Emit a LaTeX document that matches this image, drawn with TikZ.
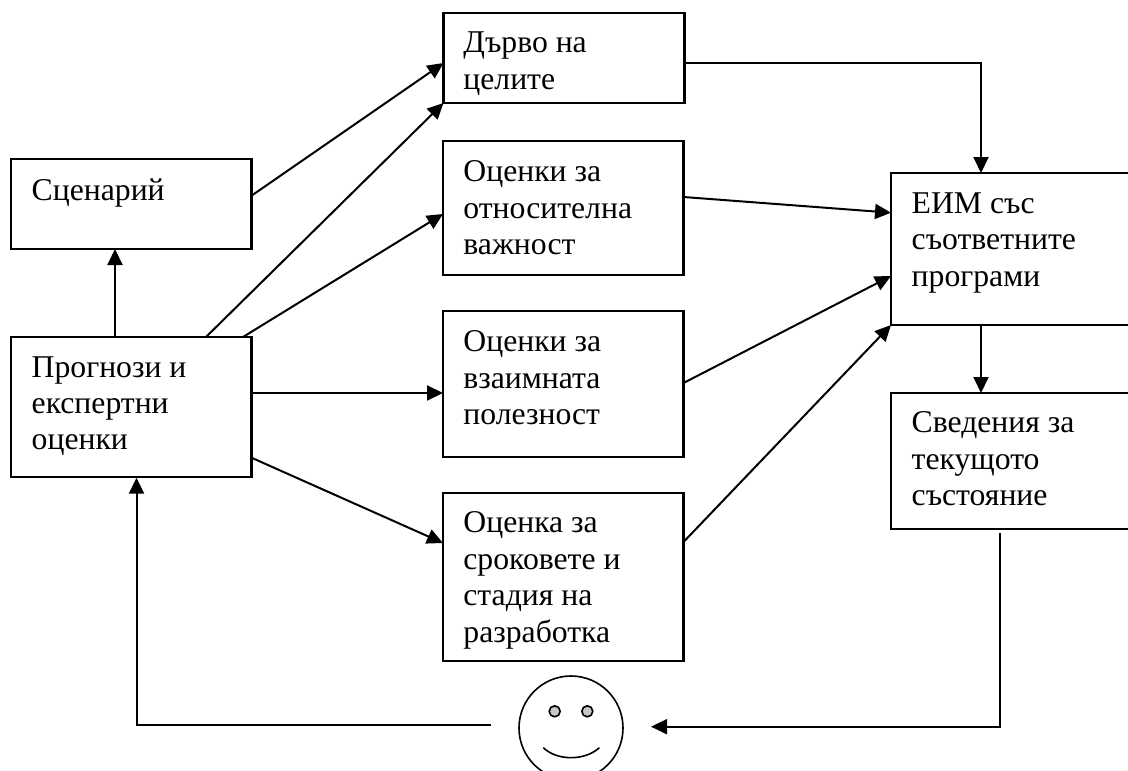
\documentclass[tikz,border=0pt]{standalone}
\usepackage{fontspec}
\setmainfont{Liberation Serif}
\usetikzlibrary{arrows.meta,calc}
\tikzset{
 box/.style={draw,line width=2.2pt,anchor=north west,inner sep=0pt,outer sep=0pt},
 lab/.style={anchor=base west,inner sep=0pt,align=left,font=\fontsize{31.7}{36.4}\selectfont},
 conn/.style={line width=2pt,-{Triangle[length=16pt,width=15pt]}},
 eye/.style={draw,fill=black!22,line width=1.6pt,circle,minimum size=11pt,inner sep=0pt},
 face/.style={draw,line width=1.6pt,circle,minimum size=104pt,inner sep=0pt,outer sep=0pt}
}
\begin{document}
\begin{tikzpicture}[x=1pt,y=1pt]
\useasboundingbox (0,0) rectangle (1128,-771);
\clip (0,0) rectangle (1128,-771);
\fill[white] (0,0) rectangle (1128,-771);
% boxes: top-left corner, size
\node[box,minimum width=241pt,minimum height=90pt] (goal) at (443.5,-13) {};
\node[box,minimum width=240.5pt,minimum height=90pt] (scen) at (11,-159) {};
\node[box,minimum width=240.5pt,minimum height=134pt] (rel) at (443,-141) {};
\node[box,minimum width=240.5pt,minimum height=140pt] (prog) at (11,-337) {};
\node[box,minimum width=240.5pt,minimum height=146pt] (mut) at (443,-311) {};
\node[box,minimum width=240.5pt,minimum height=168pt] (term) at (443,-493) {};
\node[box,minimum width=250pt,minimum height=152pt] (eim) at (891,-173) {};
\node[box,minimum width=250pt,minimum height=136pt] (cur) at (891,-393) {};
% texts (anchored at baseline of the last line)
\node[lab] (goalt) at (463.2,-89) {Дърво на\\целите};
\node[lab] (scent) at (31.5,-200) {Сценарий};
\node[lab] (relt) at (463.2,-254.5) {Оценки за\\относителна\\важност};
\node[lab] (progt) at (31.5,-449.8) {Прогнози и\\експертни\\оценки};
\node[lab] (mutt) at (463.2,-424.5) {Оценки за\\взаимната\\полезност};
\node[lab] (termt) at (463.2,-642) {Оценка за\\сроковете и\\стадия на\\разработка};
\node[lab] (eimt) at (911.5,-286) {ЕИМ със\\съответните\\програми};
\node[lab] (curt) at (911.5,-505.7) {Сведения за\\текущото\\състояние};
% smiley
\node[face] (smile) at (571,-728) {};
\node[eye] (eyel) at (554.7,-711.3) {};
\node[eye] (eyer) at (587.3,-711.3) {};
\coordinate (ml) at (543.3,-747.7);
\coordinate (mr) at (599.3,-747.7);
\draw[line width=1.6pt] (ml) .. controls (557,-761) and (585,-761) .. (mr);
% connectors
\draw[conn] ($(scen.north east)+(0,-36.7)$) -- ($(goal.north west)+(0,-50)$);
\draw[conn] ($(prog.north west)+(195,0)$) -- ($(goal.south west)+(0,0)$);
\draw[conn] ($(prog.north west)+(232,0)$) -- ($(rel.north west)+(0,-73)$);
\draw[conn] ($(prog.north west)+(104,0)$) -- ($(scen.south west)+(104,0)$);
\draw[conn] ($(prog.north east)+(0,-56)$) -- ($(mut.north west)+(0,-82)$);
\draw[conn] ($(prog.north east)+(0,-120.7)$) -- ($(term.north west)+(0,-50)$);
\draw[conn] ($(rel.north east)+(0,-56)$) -- ($(eim.north west)+(0,-39.7)$);
\draw[conn] ($(mut.north east)+(0,-72)$) -- ($(eim.north west)+(0,-103)$);
\draw[conn] ($(term.north east)+(0,-49)$) -- (eim.south west);
\draw[conn] ($(goal.north east)+(-2,-49.7)$) -| ($(eim.north west)+(90,0)$);
\draw[conn] ($(eim.south west)+(90,0)$) -- ($(cur.north west)+(90,0)$);
\draw[conn] ($(cur.south west)+(109,-3.7)$) |- ($(smile.east)+(28,1.3)$);
\draw[conn] ($(smile.west)+(-28,3)$) -| ($(prog.south west)+(125.5,-0.7)$);
\end{tikzpicture}
\end{document}
